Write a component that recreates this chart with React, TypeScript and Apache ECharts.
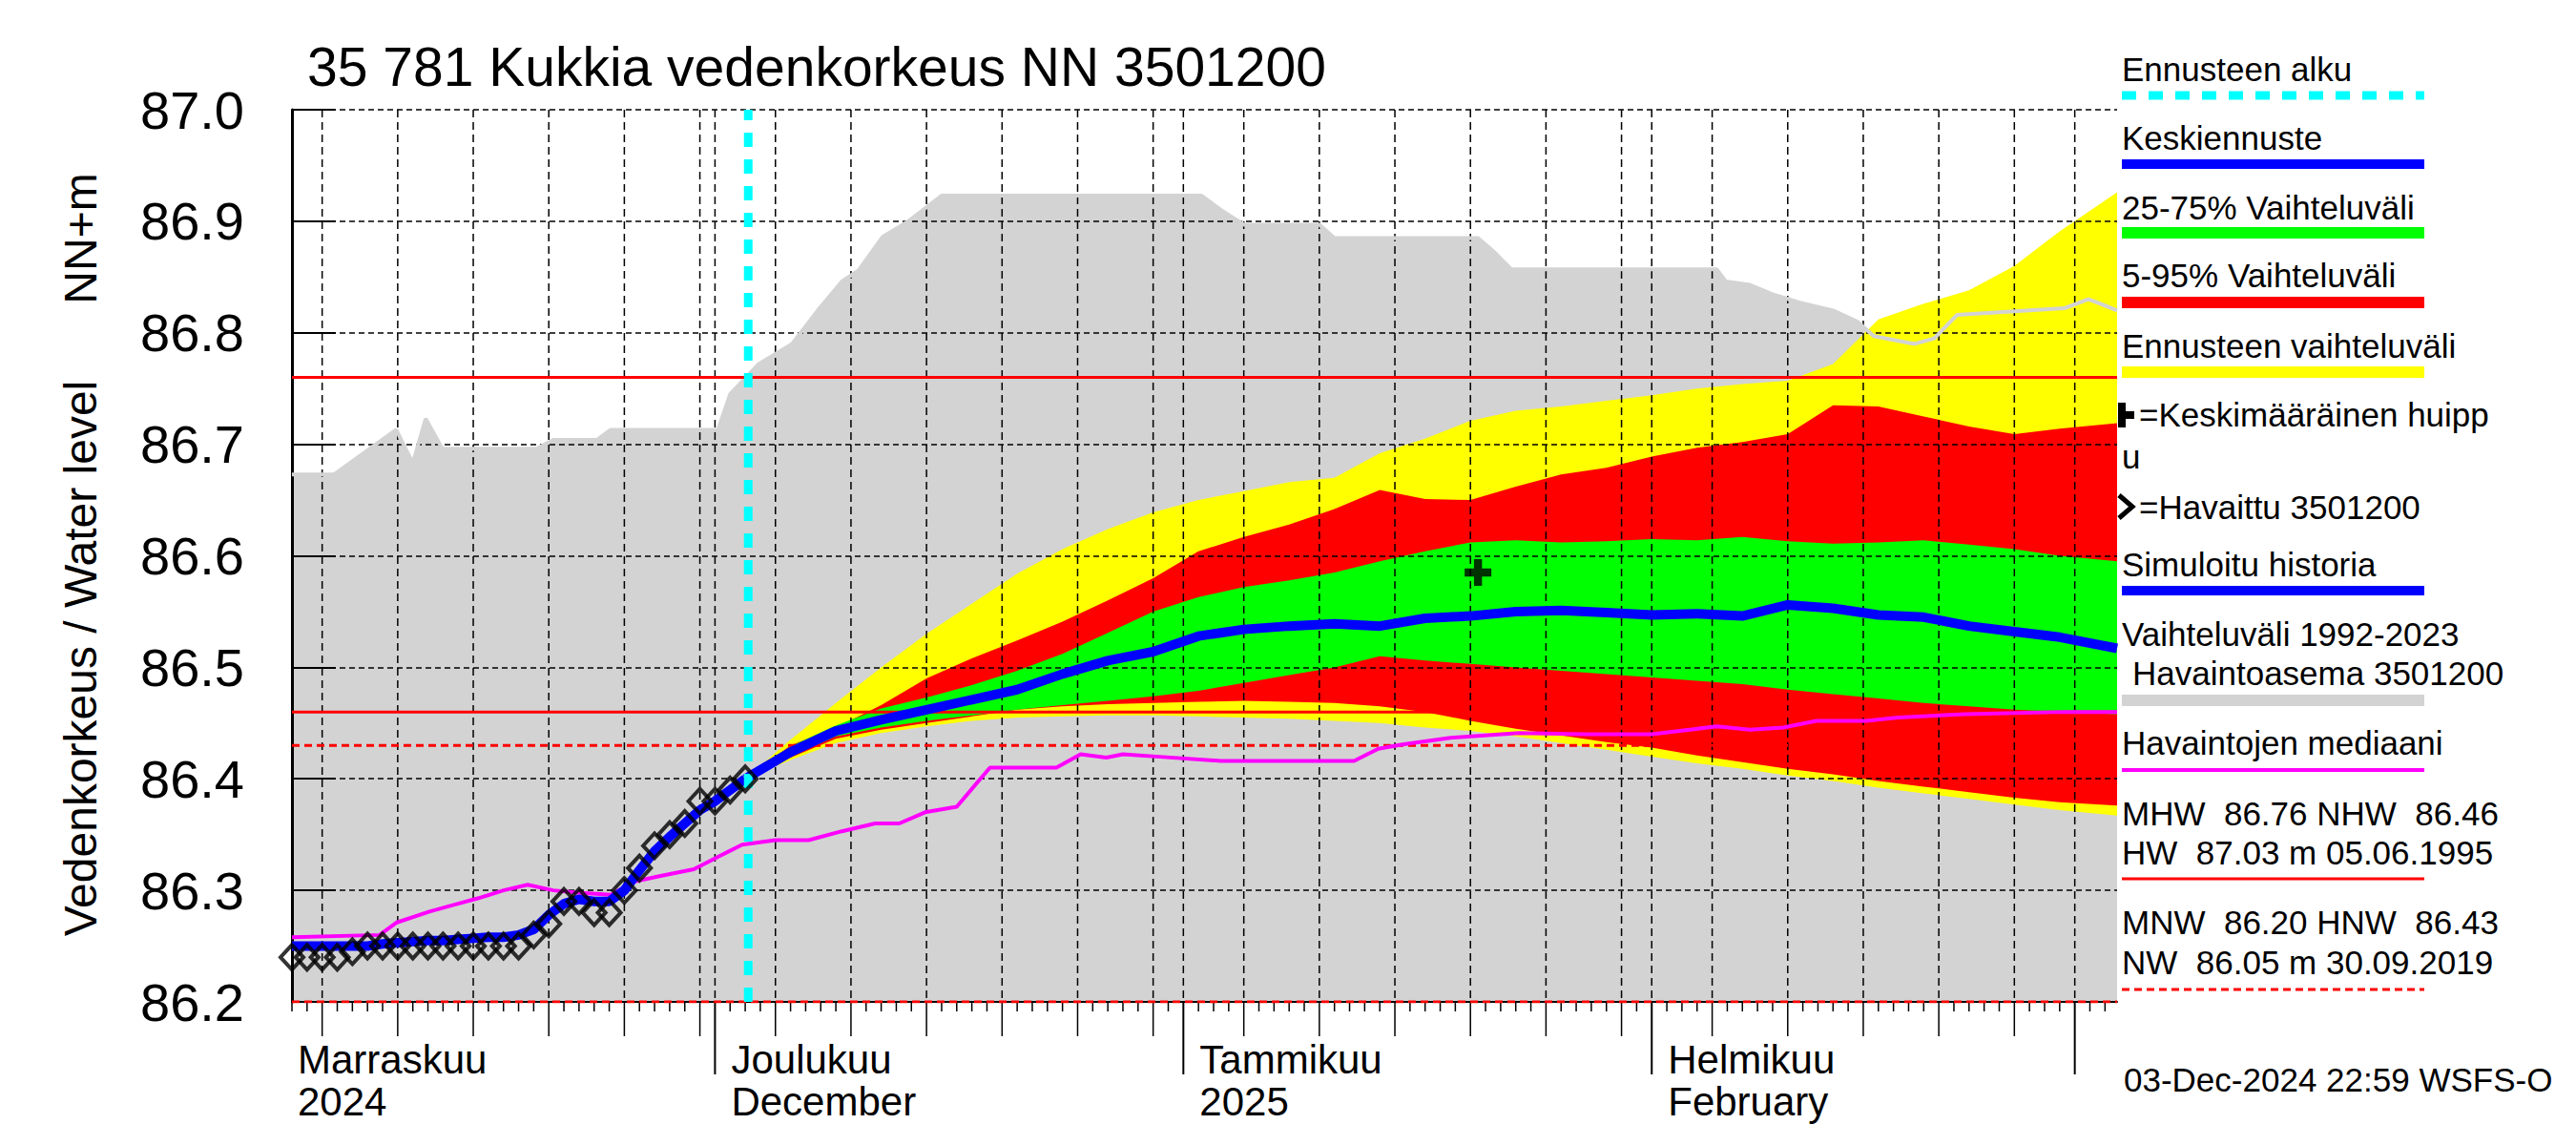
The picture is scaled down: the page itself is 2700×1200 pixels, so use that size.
import React, { useEffect, useRef } from "react";
import * as echarts from "echarts";

const FONT = '"Liberation Sans", Arial, Helvetica, sans-serif';

// x values: days counted from 1 Nov 2024 (= day 0)
const X_MIN = 2;
const X_MAX = 122.8;
const Y_MIN = 86.2;
const Y_MAX = 87.0;
const Y_STEP = 0.1;

const TITLE = "35 781 Kukkia vedenkorkeus NN 3501200";
const Y_NAME = "Vedenkorkeus / Water level";
const Y_UNIT = "NN+m";
const TIMESTAMP = "03-Dec-2024 22:59 WSFS-O";

const monthStarts = [0, 30, 61, 92];
const monthLine1 = ["Marraskuu", "Joulukuu", "Tammikuu", "Helmikuu"];
const monthLine2 = ["2024", "December", "2025", "February"];

const forecastStart = 32.2;

// observed water level (Havaittu 3501200)
const obsDays = [2, 3, 4, 5, 6, 7, 8, 9, 10, 11, 12, 13, 14, 15, 16, 17, 18, 19, 20, 21, 22, 23, 24, 25, 26, 27, 28, 29, 30, 31, 32];
const obsValues = [86.24, 86.24, 86.24, 86.24, 86.245, 86.25, 86.25, 86.25, 86.25, 86.25, 86.25, 86.25, 86.25, 86.25, 86.25, 86.25, 86.26, 86.27, 86.29, 86.29, 86.28, 86.28, 86.3, 86.32, 86.34, 86.35, 86.36, 86.38, 86.38, 86.39, 86.4];

// simulated history (Simuloitu historia)
const histValues = [86.25, 86.25, 86.25, 86.25, 86.25, 86.25, 86.252, 86.253, 86.254, 86.255, 86.255, 86.256, 86.257, 86.258, 86.258, 86.26, 86.265, 86.278, 86.288, 86.292, 86.29, 86.29, 86.3, 86.318, 86.335, 86.348, 86.36, 86.372, 86.38, 86.39, 86.4];

// forecast
const fcDays = [32, 35, 38, 41, 44, 47, 50, 53, 56, 59, 62, 65, 68, 71, 74, 77, 80, 83, 86, 89, 92, 95, 98, 101, 104, 107, 110, 113, 116, 119, 122.8];
const fcMean = [86.4, 86.424, 86.443, 86.453, 86.462, 86.471, 86.48, 86.494, 86.506, 86.514, 86.528, 86.534, 86.537, 86.539, 86.537, 86.544, 86.546, 86.55, 86.551, 86.549, 86.547, 86.548, 86.546, 86.556, 86.553, 86.547, 86.545, 86.537, 86.532, 86.527, 86.517];
const fcP75 = [86.4, 86.429, 86.448, 86.463, 86.473, 86.484, 86.497, 86.512, 86.531, 86.55, 86.563, 86.572, 86.578, 86.585, 86.595, 86.604, 86.612, 86.614, 86.612, 86.613, 86.615, 86.614, 86.617, 86.613, 86.611, 86.612, 86.614, 86.61, 86.606, 86.6, 86.595];
const fcP25 = [86.4, 86.42, 86.438, 86.446, 86.452, 86.457, 86.462, 86.466, 86.47, 86.474, 86.479, 86.486, 86.493, 86.5, 86.51, 86.506, 86.503, 86.5, 86.497, 86.494, 86.491, 86.488, 86.485, 86.48, 86.476, 86.472, 86.468, 86.465, 86.462, 86.46, 86.458];
const fcP95 = [86.4, 86.43, 86.446, 86.466, 86.49, 86.508, 86.524, 86.541, 86.56, 86.58, 86.604, 86.617, 86.628, 86.642, 86.659, 86.651, 86.65, 86.662, 86.673, 86.679, 86.689, 86.697, 86.702, 86.709, 86.735, 86.734, 86.725, 86.716, 86.709, 86.714, 86.719];
const fcP05 = [86.4, 86.419, 86.436, 86.444, 86.45, 86.456, 86.462, 86.465, 86.467, 86.468, 86.469, 86.47, 86.469, 86.468, 86.465, 86.46, 86.452, 86.445, 86.439, 86.433, 86.428, 86.421, 86.415, 86.409, 86.404, 86.398, 86.393, 86.388, 86.383, 86.379, 86.376];
const fcMax = [86.4, 86.435, 86.468, 86.5, 86.53, 86.557, 86.584, 86.606, 86.624, 86.639, 86.65, 86.658, 86.666, 86.67, 86.692, 86.705, 86.721, 86.73, 86.734, 86.739, 86.744, 86.75, 86.754, 86.757, 86.772, 86.812, 86.826, 86.838, 86.86, 86.891, 86.926];
const fcMin = [86.4, 86.417, 86.432, 86.441, 86.447, 86.452, 86.455, 86.456, 86.457, 86.457, 86.456, 86.455, 86.454, 86.452, 86.45, 86.446, 86.443, 86.438, 86.432, 86.426, 86.42, 86.414, 86.409, 86.403, 86.398, 86.392, 86.387, 86.382, 86.377, 86.372, 86.367];

// observed range 1992-2023 (upper edge)
const rangeDays = [2, 4.8, 8.9, 10, 10.85, 11.95, 18.2, 19.3, 22.2, 23.1, 30.2, 31, 32.9, 35.1, 36.8, 38.4, 39.5, 41.1, 42.8, 45, 62.2, 63.5, 65, 70, 71, 80.5, 81.6, 82.7, 96.3, 96.9, 98.5, 100.1, 101.8, 104, 105.6, 106.7, 109.4, 110.7, 112.2, 119.3, 120.9, 121.7, 122.8];
const rangeMax = [86.673, 86.673, 86.713, 86.683, 86.723, 86.696, 86.696, 86.704, 86.704, 86.713, 86.713, 86.745, 86.772, 86.79, 86.82, 86.846, 86.856, 86.886, 86.9, 86.923, 86.923, 86.91, 86.897, 86.897, 86.885, 86.885, 86.872, 86.857, 86.857, 86.846, 86.843, 86.834, 86.827, 86.82, 86.81, 86.797, 86.79, 86.795, 86.816, 86.822, 86.83, 86.826, 86.82];

// median of observations
const medianDays = [2, 7.8, 8.9, 11.1, 12.7, 14.35, 16, 17.6, 19.3, 20.9, 23.1, 24.7, 26.4, 28.6, 30.2, 31.8, 34, 36.2, 38.4, 40.6, 42.2, 43.9, 46, 48.2, 52.6, 54.2, 55.9, 57, 59.2, 63.5, 72.3, 73.9, 75.6, 78.8, 83.2, 87.6, 92, 96.3, 98.5, 100.7, 102.9, 106.2, 108.3, 112.7, 119.3, 122.8];
const medianValues = [86.258, 86.26, 86.271, 86.281, 86.287, 86.293, 86.3, 86.305, 86.3, 86.298, 86.296, 86.308, 86.313, 86.319, 86.33, 86.341, 86.345, 86.345, 86.353, 86.36, 86.36, 86.37, 86.375, 86.41, 86.41, 86.422, 86.419, 86.422, 86.42, 86.416, 86.416, 86.427, 86.431, 86.437, 86.441, 86.44, 86.44, 86.447, 86.444, 86.446, 86.452, 86.452, 86.455, 86.458, 86.46, 86.46];

// mean peak
const peakDay = 80.5;
const peakValue = 86.585;

// reference levels: MHW, NHW (solid), HNW, MNW (dashed)
const refLevels = [86.76, 86.46, 86.43, 86.2];
const refDashed = [false, false, true, true];

// legend
const legendTexts: [string, number, number][] = [
  ["Ennusteen alku", 72, 0],
  ["Keskiennuste", 144, 0],
  ["25-75% Vaihteluväli", 217, 0],
  ["5-95% Vaihteluväli", 288, 0],
  ["Ennusteen vaihteluväli", 362, 0],
  ["=Keskimääräinen huipp", 434, 18],
  ["u", 478, 0],
  ["=Havaittu 3501200", 531, 18],
  ["Simuloitu historia", 591, 0],
  ["Vaihteluväli 1992-2023", 664, 0],
  ["Havaintoasema 3501200", 705, 11],
  ["Havaintojen mediaani", 778, 0],
  ["MHW  86.76 NHW  86.46", 852, 0],
  ["HW  87.03 m 05.06.1995", 893, 0],
  ["MNW  86.20 HNW  86.43", 966, 0],
  ["NW  86.05 m 30.09.2019", 1008, 0],
];
const legendLines: [number, string, number, number[] | null][] = [
  [100, "#00ffff", 9, [15, 13]],
  [172, "#0000ff", 10, null],
  [244, "#00ff00", 12, null],
  [317, "#ff0000", 12, null],
  [390, "#ffff00", 12, null],
  [619, "#0000ff", 10, null],
  [734, "#d3d3d3", 12, null],
  [807, "#ff00ff", 4, null],
  [921, "#ff0000", 3, null],
  [1037, "#ff0000", 3, [8, 5]],
];

const zip = (xs: number[], ys: number[]) => xs.map((x, i) => [x, ys[i]]);

function band(days: number[], lower: number[], upper: number[], color: string, z: number) {
  return {
    type: "custom",
    coordinateSystem: "cartesian2d",
    z,
    silent: true,
    data: [[days[0], lower[0]]],
    encode: { x: 0, y: 1 },
    renderItem: (_p: any, api: any) => {
      const pts: number[][] = [];
      for (let i = 0; i < days.length; i++) pts.push(api.coord([days[i], upper[i]]));
      for (let i = days.length - 1; i >= 0; i--) pts.push(api.coord([days[i], lower[i]]));
      return { type: "polygon", shape: { points: pts }, style: { fill: color } };
    },
  };
}

function line(data: number[][], color: string, width: number, z: number, dash?: number[]) {
  return {
    type: "line",
    data,
    symbol: "none",
    showSymbol: false,
    silent: true,
    z,
    lineStyle: { color, width, type: dash || "solid" },
  };
}

function buildTicks() {
  const out: number[][] = [];
  for (let d = Math.ceil(X_MIN); d <= Math.floor(X_MAX); d++) {
    const dt = new Date(2024, 10, 1 + d);
    const dom = dt.getDate();
    const kind = dom === 1 ? 2 : dom % 5 === 0 ? 1 : 0;
    out.push([d, Y_MIN, kind]);
  }
  return out;
}

function txt(text: string, x: number, y: number, size: number, extra: any = {}) {
  return {
    type: "text",
    x,
    y,
    silent: true,
    style: {
      text,
      fill: "#000",
      font: `${size}px ${FONT}`,
      textAlign: "left",
      align: "left",
      textVerticalAlign: "middle",
      verticalAlign: "middle",
      ...extra,
    },
  };
}

function buildOption() {
  const LX = 2224;
  const graphic: any[] = [];
  graphic.push(txt(TITLE, 322, 70, 57));
  graphic.push({
    type: "text",
    x: 84,
    y: 690,
    rotation: Math.PI / 2,
    silent: true,
    style: { text: Y_NAME, fill: "#000", font: `48px ${FONT}`, textAlign: "center", align: "center", textVerticalAlign: "middle", verticalAlign: "middle" },
  });
  graphic.push({
    type: "text",
    x: 84,
    y: 250,
    rotation: Math.PI / 2,
    silent: true,
    style: { text: Y_UNIT, fill: "#000", font: `48px ${FONT}`, textAlign: "center", align: "center", textVerticalAlign: "middle", verticalAlign: "middle" },
  });
  legendTexts.forEach(([t, y, dx]) => graphic.push(txt(t, LX + dx, y, 35)));
  legendLines.forEach(([y, c, w, dash]) =>
    graphic.push({
      type: "line",
      silent: true,
      shape: { x1: LX, y1: y, x2: 2541, y2: y },
      style: { stroke: c, lineWidth: w, lineDash: dash || null },
    })
  );
  // legend symbols (plus, diamond)
  graphic.push({ type: "rect", silent: true, shape: { x: 2220, y: 422, width: 8, height: 26 }, style: { fill: "#000" } });
  graphic.push({ type: "rect", silent: true, shape: { x: 2220, y: 431, width: 17, height: 8 }, style: { fill: "#000" } });
  graphic.push({
    type: "polyline",
    silent: true,
    shape: { points: [[2221, 519], [2235, 531], [2221, 543]] },
    style: { stroke: "#000", lineWidth: 5, fill: null },
  });
  graphic.push(txt(TIMESTAMP, 2226, 1131, 35));

  const series: any[] = [];
  series.push(band(rangeDays, rangeDays.map(() => Y_MIN), rangeMax, "#d3d3d3", 1));
  series.push(band(fcDays, fcMin, fcMax, "#ffff00", 2));
  series.push(band(fcDays, fcP05, fcP95, "#ff0000", 2));
  series.push(band(fcDays, fcP25, fcP75, "#00ff00", 2));
  series.push(line(zip(rangeDays, rangeMax), "#d3d3d3", 4, 3));

  // x ticks + vertical grid lines
  series.push({
    type: "custom",
    coordinateSystem: "cartesian2d",
    z: 3,
    silent: true,
    data: buildTicks(),
    encode: { x: 0, y: 1 },
    renderItem: (_p: any, api: any) => {
      const d = api.value(0);
      const kind = api.value(2);
      const b = api.coord([d, Y_MIN]);
      const t = api.coord([d, Y_MAX]);
      const len = kind === 2 ? 76 : kind === 1 ? 36 : 10;
      const children: any[] = [
        { type: "line", shape: { x1: b[0], y1: b[1], x2: b[0], y2: b[1] + len }, style: { stroke: "#000", lineWidth: kind === 2 ? 2 : 1.5 } },
      ];
      if (kind > 0) {
        children.push({ type: "line", shape: { x1: t[0], y1: t[1], x2: b[0], y2: b[1] }, style: { stroke: "#000", lineWidth: 1.5, lineDash: [8, 5] } });
      }
      return { type: "group", children };
    },
  });

  // month labels
  series.push({
    type: "custom",
    coordinateSystem: "cartesian2d",
    z: 3,
    silent: true,
    data: monthStarts.map((m, i) => [Math.max(m, X_MIN), Y_MIN, i, m < X_MIN ? 6 : 17]),
    encode: { x: 0, y: 1 },
    renderItem: (_p: any, api: any) => {
      const i = api.value(2);
      const off = api.value(3);
      const p = api.coord([api.value(0), Y_MIN]);
      const st = (text: string) => ({ text, fill: "#000", font: `42px ${FONT}`, textAlign: "left", align: "left", textVerticalAlign: "middle", verticalAlign: "middle" });
      return {
        type: "group",
        children: [
          { type: "text", x: p[0] + off, y: p[1] + 60, style: st(monthLine1[i]) },
          { type: "text", x: p[0] + off, y: p[1] + 104, style: st(monthLine2[i]) },
        ],
      };
    },
  });

  refLevels.forEach((v, i) => series.push(line([[X_MIN, v], [X_MAX, v]], "#ff0000", 3, 4, refDashed[i] ? [8, 5] : undefined)));
  series.push(line(zip(medianDays, medianValues), "#ff00ff", 4, 5));
  series.push(line(zip(obsDays, histValues), "#0000ff", 10, 6));
  series.push(line(zip(fcDays, fcMean), "#0000ff", 10, 6));
  series.push(line([[forecastStart, Y_MIN], [forecastStart, Y_MAX]], "#00ffff", 9, 7, [15, 13]));
  series.push({
    type: "scatter",
    data: zip(obsDays, obsValues),
    symbol: "diamond",
    symbolSize: [24, 26],
    silent: true,
    z: 8,
    itemStyle: { color: "rgba(0,0,0,0)", borderColor: "#000", borderWidth: 4 },
  });
  series.push({
    type: "scatter",
    data: [[peakDay, peakValue]],
    symbol: "path://M3.5,0H6.5V3.5H10V6.5H6.5V10H3.5V6.5H0V3.5H3.5Z",
    symbolSize: 28,
    silent: true,
    z: 9,
    itemStyle: { color: "#000" },
  });

  return {
    animation: false,
    backgroundColor: "#ffffff",
    grid: { left: 306, right: 481, top: 115, bottom: 150 },
    xAxis: {
      type: "value",
      min: X_MIN,
      max: X_MAX,
      z: 3,
      axisLine: { show: true, onZero: false, lineStyle: { color: "#000", width: 2 } },
      axisTick: { show: false },
      axisLabel: { show: false },
      splitLine: { show: false },
    },
    yAxis: {
      type: "value",
      min: Y_MIN,
      max: Y_MAX,
      interval: Y_STEP,
      z: 3,
      axisLine: { show: true, onZero: false, lineStyle: { color: "#000", width: 3 } },
      axisTick: { show: true, inside: true, length: 46, lineStyle: { color: "#000", width: 2 } },
      axisLabel: { show: true, formatter: (v: number) => v.toFixed(1), fontSize: 56, fontFamily: FONT, color: "#000", margin: 50 },
      splitLine: { show: true, lineStyle: { color: "#000", width: 1.5, type: [6, 4] } },
    },
    graphic,
    series,
  };
}

export default function App() {
  const ref = useRef<HTMLDivElement>(null);
  useEffect(() => {
    const chart = echarts.init(ref.current!, null, { renderer: "svg" });
    chart.setOption(buildOption() as any);
    return () => chart.dispose();
  }, []);
  return <div ref={ref} style={{ position: "absolute", left: 0, top: 0, width: 2700, height: 1200, background: "#fff" }} />;
}
